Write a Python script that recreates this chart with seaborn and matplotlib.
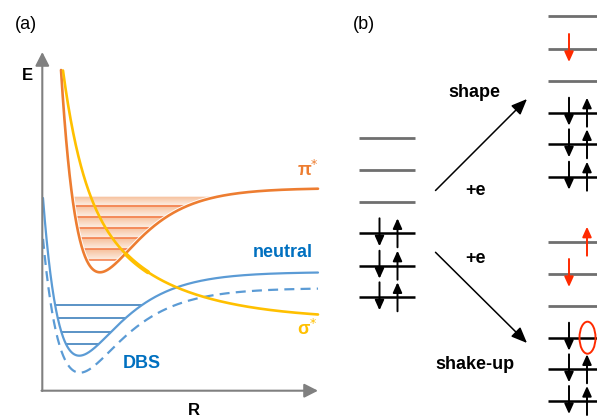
import numpy as np
import pandas as pd
import matplotlib
matplotlib.use('Agg')
import matplotlib.pyplot as plt
import matplotlib.patheffects as pe
from matplotlib.patches import Ellipse, Polygon
from matplotlib.colors import to_rgba
import seaborn as sns

# ---------------- panel (a) data: Morse-type curves (sketch units = pixels) ----
curve_names   = ['pi_star', 'neutral', 'dbs']
curve_r0      = [100.0, 79.3, 80.0]      # bond length at minimum
curve_emin    = [272.3, 355.7, 372.7]    # energy at minimum (downward axis)
curve_depth   = [84.3, 83.7, 84.7]       # well depth
curve_a_left  = [0.024, 0.0238, 0.022]
curve_a_right = [0.025, 0.024, 0.0235]

sigma_inf  = 320.0
sigma_amp  = [45.0, 116.0]
sigma_r    = [150.0, 63.0]
sigma_rate = [0.0125, 0.05]

dbs_levels   = [305.0, 318.3, 331.7, 344.0]
pi_levels    = [205.7, 216.7, 227.7, 238.3, 249.3, 260.3]
pi_shade_top = 196.7

# ---------------- panel (b) data --------------------------------------------
left_empty   = [137.7, 170.0, 201.7]
left_filled  = [233.3, 265.7, 297.3]
top_empty    = [16.0, 49.0, 81.0]
top_filled   = [112.7, 144.3, 176.7]
bot_empty    = [241.7, 274.0, 305.7]
bot_filled   = [337.7, 369.3, 401.0]

ORANGE = '#ED7D31'
YELLOW = '#FFC000'
BLUE   = '#5B9BD5'
DBLUE  = '#0070C0'
LBLUE  = '#2E75B6'
GREY   = '#6F6F6F'
AXGREY = '#808080'
RED    = '#FF2A00'

sns.set_theme(style='white')
plt.rcParams['font.family'] = ['Liberation Sans', 'DejaVu Sans']
plt.rcParams['text.color'] = 'black'

fig = plt.figure(figsize=(5.97, 4.17), dpi=100)
ax = fig.add_axes([0, 0, 1, 1])


def morse(r, i):
    a = np.where(r < curve_r0[i], curve_a_left[i], curve_a_right[i])
    return curve_emin[i] - curve_depth[i] * (1 - np.exp(-a * (r - curve_r0[i]))) ** 2


def morse_inv(e, i):
    s = np.sqrt((curve_emin[i] - np.asarray(e)) / curve_depth[i])
    left = curve_r0[i] - np.log(1 + s) / curve_a_left[i]
    right = curve_r0[i] - np.log(1 - s) / curve_a_right[i]
    return left, right


def sigma(r):
    return sigma_inf - sum(A * np.exp(-k * (r - r0)) for A, r0, k in zip(sigma_amp, sigma_r, sigma_rate))


# ---- orange shading with gradient bands ----
band_edges = [pi_shade_top] + pi_levels
ys = np.linspace(pi_shade_top, pi_levels[-1], 400)
ctop = np.array(to_rgba('#F6BE98'))
cbot = np.array(to_rgba('#FDEEE3'))
img = np.zeros((len(ys), 1, 4))
for k, y in enumerate(ys):
    j = np.searchsorted(band_edges, y, side='right') - 1
    j = min(max(j, 0), len(band_edges) - 2)
    t = (y - band_edges[j]) / (band_edges[j + 1] - band_edges[j])
    img[k, 0] = ctop * (1 - t) + cbot * t
xl, xr = morse_inv(ys, 0)
im = ax.imshow(img, extent=[55, 240, pi_levels[-1], pi_shade_top], origin='upper',
               aspect='auto', interpolation='bilinear', zorder=1)
poly = Polygon(np.column_stack([np.concatenate([xl, xr[::-1]]),
                                np.concatenate([ys, ys[::-1]])]),
               closed=True, transform=ax.transData)
im.set_clip_path(poly)

lv_l, lv_r = morse_inv(pi_levels, 0)
ax.hlines(pi_levels, lv_l, lv_r, color='#F47A45', lw=1.1, zorder=2)

lv_l, lv_r = morse_inv(dbs_levels, 1)
ax.hlines(dbs_levels, lv_l, lv_r, color=LBLUE, lw=1.1, zorder=2)

# ---- curves ----
r_pi_start, _ = morse_inv(70.0, 0)
r = np.linspace(float(r_pi_start), 318, 600)
sns.lineplot(x=r, y=morse(r, 0), ax=ax, color=ORANGE, lw=1.9, estimator=None,
             zorder=4, path_effects=[pe.Stroke(linewidth=3.2, foreground='white'), pe.Normal()])

r = np.linspace(43, 318, 600)
sns.lineplot(x=r, y=morse(r, 2), ax=ax, color=BLUE, lw=1.6, estimator=None,
             linestyle=(0, (4.5, 2.8)), zorder=3)
sns.lineplot(x=r, y=morse(r, 1), ax=ax, color=BLUE, lw=1.6, estimator=None, zorder=3)

r = np.linspace(63, 318, 600)
sns.lineplot(x=r, y=sigma(r), ax=ax, color=YELLOW, lw=1.9, estimator=None, zorder=5)
r = np.linspace(126, 148, 50)
sns.lineplot(x=r, y=sigma(r), ax=ax, color=YELLOW, lw=3.0, estimator=None, zorder=5)

# ---- axes arrows ----
axprops = dict(arrowstyle='-|>,head_length=0.55,head_width=0.28', color=AXGREY, lw=1.5,
               shrinkA=0, shrinkB=0, mutation_scale=15)
ax.annotate('', xy=(42.3, 52), xytext=(42.3, 391), arrowprops=axprops, zorder=6)
ax.annotate('', xy=(318, 390.7), xytext=(41.5, 390.7), arrowprops=axprops, zorder=6)

fs = 13
ax.text(15, 28.5, '(a)', fontsize=fs, ha='left', va='baseline')
ax.text(353, 28.5, '(b)', fontsize=fs, ha='left', va='baseline')
ax.text(27, 80, 'E', fontsize=12, fontweight='bold', ha='center', va='baseline')
ax.text(194, 415, 'R', fontsize=12, fontweight='bold', ha='center', va='baseline')
ax.text(297, 176, 'π$^{*}$', fontsize=fs, fontweight='bold', color=ORANGE, ha='left', va='baseline')
ax.text(297, 335, 'σ$^{*}$', fontsize=fs, fontweight='bold', color=YELLOW, ha='left', va='baseline')
ax.text(313, 257, 'neutral', fontsize=fs, fontweight='bold', color=DBLUE, ha='right', va='baseline')
ax.text(123, 368, 'DBS', fontsize=fs, fontweight='bold', color=DBLUE, ha='left', va='baseline')

# ---------------- panel (b) ----------------
def spin(x, yl, up, color='black'):
    if up:
        y0, y1 = yl + 14, yl - 15
    else:
        y0, y1 = yl - 15, yl + 13
    ax.annotate('', xy=(x, y1), xytext=(x, y0),
                arrowprops=dict(arrowstyle='-|>,head_length=0.6,head_width=0.27', color=color,
                                lw=1.4, shrinkA=0, shrinkB=0, mutation_scale=10), zorder=7)


# left neutral
ax.hlines(left_empty, 359, 415, color=GREY, lw=2.0)
ax.hlines(left_filled, 359, 415, color='black', lw=1.8)
for yl in left_filled:
    spin(379.5, yl, False)
    spin(397.5, yl, True)

# top right (shape)
ax.hlines(top_empty, 548, 600, color=GREY, lw=2.0)
ax.hlines(top_filled, 548, 600, color='black', lw=1.8)
for yl in top_filled:
    spin(569, yl, False)
    spin(587, yl, True)
spin(569, top_empty[1], False, RED)

# bottom right (shake-up)
ax.hlines(bot_empty, 548, 600, color=GREY, lw=2.0)
ax.hlines(bot_filled, 548, 600, color='black', lw=1.8)
for k, yl in enumerate(bot_filled):
    spin(569, yl, False)
    if k > 0:
        spin(587, yl, True)
spin(587, bot_empty[0], True, RED)
spin(569, bot_empty[1], False, RED)
ax.add_patch(Ellipse((587.5, bot_filled[0]), 16, 32, fill=False, ec=RED, lw=1.4, zorder=8))

# transition arrows
dprops = dict(arrowstyle='-|>,head_length=0.6,head_width=0.25', color='black', lw=1.1,
              shrinkA=0, shrinkB=0, mutation_scale=16)
ax.annotate('', xy=(527, 99), xytext=(435.5, 190.5), arrowprops=dprops)
ax.annotate('', xy=(527, 343), xytext=(435.5, 252.3), arrowprops=dprops)

ax.text(474, 97, 'shape', fontsize=fs, fontweight='bold', ha='center', va='baseline')
ax.text(476, 195, '+e', fontsize=fs, fontweight='bold', ha='center', va='baseline')
ax.text(476, 263, '+e', fontsize=fs, fontweight='bold', ha='center', va='baseline')
ax.text(475, 369, 'shake-up', fontsize=fs, fontweight='bold', ha='center', va='baseline')

ax.set_xlim(0, 597)
ax.set_ylim(417, 0)
ax.axis('off')
fig.savefig('out.png', dpi=100)
